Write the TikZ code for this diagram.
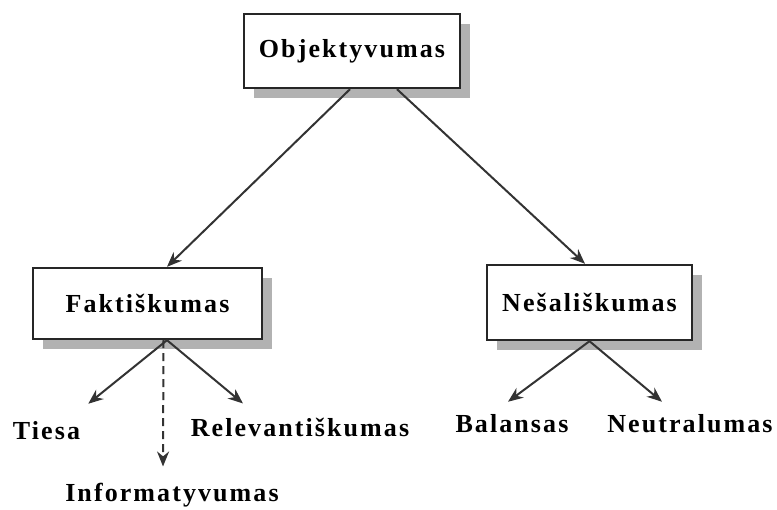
\documentclass[tikz,border=0pt]{standalone}
\usepackage{fontspec}
\setmainfont{Liberation Serif}
\newfontfamily\lblfont[LetterSpace=8]{Liberation Serif}
\usetikzlibrary{arrows.meta,shadows}

\tikzset{
  lbl/.style={font=\lblfont\fontsize{26}{31}\selectfont\bfseries, text=black},
  topicbox/.style={lbl, draw=black!85, line width=2.4pt, fill=white,
    drop shadow={shadow xshift=10pt, shadow yshift=-10pt, fill=black!30, opacity=1}},
  leaf/.style={lbl, inner sep=0pt, anchor=base},
  arr/.style={draw=black!80, line width=2pt, -{Stealth[length=15pt,width=12pt]}}
}

\begin{document}
\begin{tikzpicture}[x=1pt,y=-1pt]
\useasboundingbox (0,0) rectangle (777,510);
% boxes
\node[topicbox, minimum width=216pt, minimum height=74pt] (objekt) at (352,51) {Objektyvumas};
\node[topicbox, minimum width=229pt, minimum height=71pt] (fakt) at (147.5,303.5) {Faktiškumas};
\node[topicbox, minimum width=205pt, minimum height=75pt] (nesal) at (589.5,302.5) {Nešališkumas};
% leaves
\node[leaf] (tiesa) at (46.5,440) {Tiesa};
\node[leaf] (relev) at (300,437) {Relevantiškumas};
\node[leaf] (inform) at (172,502) {Informatyvumas};
\node[leaf] (balans) at (512,433) {Balansas};
\node[leaf] (neutral) at (690,433) {Neutralumas};
% arrows
\draw[arr] ([xshift=-2pt]objekt.south) -- ([xshift=19.5pt]fakt.north);
\draw[arr] ([xshift=45pt]objekt.south) -- ([xshift=-4.5pt]nesal.north);
\draw[arr] ([xshift=19.5pt]fakt.south) -- ([shift={(8,-18)}]tiesa.north east);
\draw[arr] ([xshift=19.5pt]fakt.south) -- ([shift={(-57,-15)}]relev.north);
\draw[arr, dash pattern=on 8pt off 5pt] ([xshift=16pt]fakt.south) -- ([shift={(-9,-17)}]inform.north);
\draw[arr] (nesal.south) -- ([shift={(-4,-13)}]balans.north);
\draw[arr] (nesal.south) -- ([shift={(-28,-13)}]neutral.north);
\end{tikzpicture}
\end{document}
